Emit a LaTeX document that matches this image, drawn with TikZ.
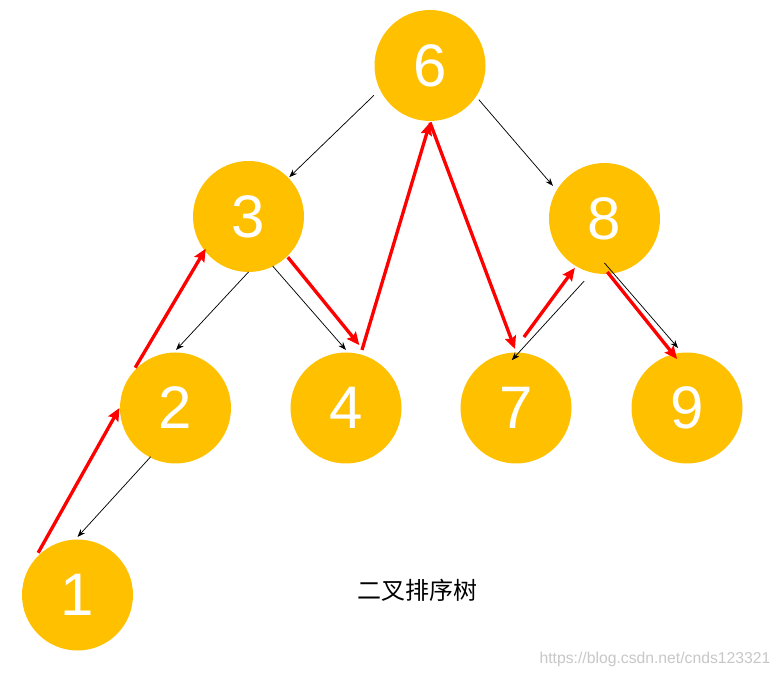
\documentclass[tikz,border=0pt]{standalone}
\usepackage{fontspec}
\setmainfont{Liberation Sans}
\newfontfamily\cjk{Noto Sans CJK SC}
\usepackage{xcolor}
\usetikzlibrary{arrows.meta, calc}
\definecolor{gold}{HTML}{FFC000}
\definecolor{walkred}{HTML}{FF0000}

\begin{document}
\begin{tikzpicture}[
  x=0.75pt, y=0.75pt,
  key/.style={circle, fill=gold, minimum size=83.25pt, inner sep=0pt,
              text=white, font=\fontsize{45}{45}\selectfont},
  link/.style={-{Stealth[length=6pt, width=4.5pt]}, line width=0.55pt, black},
  walk/.style={-{Stealth[length=9.5pt, width=8.5pt, inset=1.5pt]}, line width=2.5pt, walkred},
]
  \useasboundingbox (0,0) rectangle (779,677);

  \node[key] (n6) at (430,611.5) {6};
  \node[key] (n3) at (248.5,460.5) {3};
  \node[key] (n8) at (604.5,458.5) {8};
  \node[key] (n2) at (175.5,269) {2};
  \node[key] (n4) at (346,269) {4};
  \node[key] (n7) at (516,269) {7};
  \node[key] (n9) at (687,269) {9};
  \node[key] (n1) at (77.5,82) {1};

  \node[font=\cjk\fontsize{18}{18}\selectfont] (title) at (417,87) {二叉排序树};
  \node[font=\fontsize{11.8}{12}\selectfont, text=black!22] (mark) at (655,18) {https://blog.csdn.net/cnds123321};

  % tree edges
  \draw[link] ($(n6)+(208:63.5)$) -- ($(n3)+(44:56.6)$);
  \draw[link] ($(n3)+(270:55.5)$) -- ($(n2)+(89.5:58)$);
  \draw[link] ($(n3)+(296:55.2)$) -- ($(n4)+(90:58)$);
  \draw[link] ($(n2)+(243:54.8)$) -- ($(n1)+(90:58)$);
  \draw[link] ($(n6)+(325:59.6)$) -- ($(n8)+(147.7:61)$);
  \draw[link] ($(n8)+(252:65.8)$) -- ($(n7)+(95:48)$);
  \draw[link] ($(n8)+(270:44.5)$) -- ($(n9)+(98.5:60.7)$);

  % in-order walk
  \draw[walk] ($(n1)+(133:57.7)$) -- ($(n2)+(180:56)$);
  \draw[walk] ($(n2)+(135:57)$) -- ($(n3)+(217:53.5)$);
  \draw[walk] ($(n3)+(314:56.6)$) -- ($(n4)+(78:64.3)$);
  \draw[walk] ($(n4)+(74.6:60.2)$) -- ($(n6)+(270:57)$);
  \draw[walk] ($(n6)+(270:57)$) -- ($(n7)+(91:59)$);
  \draw[walk] ($(n7)+(83.6:71.4)$) -- ($(n8)+(239:57.6)$);
  \draw[walk] ($(n8)+(273:53.6)$) -- ($(n9)+(101.5:50)$);
\end{tikzpicture}
\end{document}
